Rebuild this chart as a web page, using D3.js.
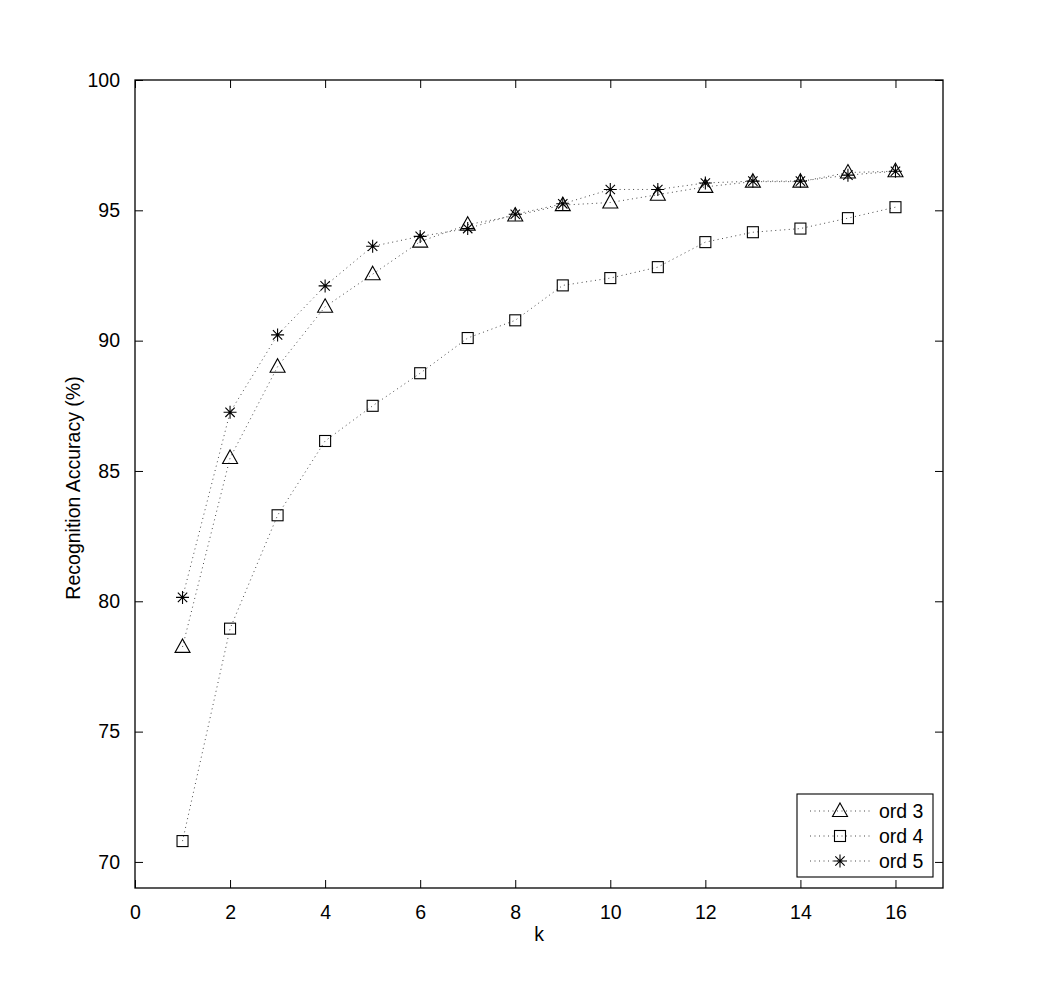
<!DOCTYPE html>
<html>
<head>
<meta charset="utf-8">
<script src="https://cdn.jsdelivr.net/npm/d3@7"></script>
<style>
  body { margin: 0; background: #fff; }
  text { font-family: "Liberation Sans", Arial, sans-serif; }
</style>
</head>
<body>
<svg id="chart" width="1042" height="1005"></svg>
<script>
// data
var kValues = [1, 2, 3, 4, 5, 6, 7, 8, 9, 10, 11, 12, 13, 14, 15, 16];
var ord3 = [78.25, 85.5, 89.0, 91.3, 92.55, 93.8, 94.45, 94.8, 95.2, 95.3, 95.6, 95.9, 96.1, 96.1, 96.45, 96.5];
var ord4 = [70.8, 78.95, 83.3, 86.15, 87.5, 88.75, 90.1, 90.78, 92.12, 92.4, 92.82, 93.78, 94.16, 94.3, 94.7, 95.12];
var ord5 = [80.15, 87.25, 90.22, 92.1, 93.62, 94.0, 94.3, 94.85, 95.25, 95.8, 95.8, 96.05, 96.12, 96.12, 96.35, 96.5];
var seriesNames = ["ord 3", "ord 4", "ord 5"];
var xTicks = [0, 2, 4, 6, 8, 10, 12, 14, 16];
var yTicks = [70, 75, 80, 85, 90, 95, 100];

var plotLeft = 135, plotTop = 80, plotRight = 943, plotBottom = 888;
var fontSize = 19.5;

var svg = d3.select("#chart");

var x = d3.scaleLinear().domain([0, 17]).range([plotLeft, plotRight]);
var y = d3.scaleLinear().domain([69, 100]).range([plotBottom, plotTop]);

// box
svg.append("rect")
    .attr("x", plotLeft).attr("y", plotTop)
    .attr("width", plotRight - plotLeft).attr("height", plotBottom - plotTop)
    .attr("fill", "none").attr("stroke", "#000").attr("stroke-width", 1.3);

// axes (ticks inward, like matlab)
var xAxis = d3.axisBottom(x).tickValues(xTicks).tickSizeInner(-8).tickSizeOuter(0).tickPadding(17);
var yAxis = d3.axisLeft(y).tickValues(yTicks).tickSizeInner(-8).tickSizeOuter(0).tickPadding(15);

var gx = svg.append("g").attr("transform", "translate(0," + plotBottom + ")").call(xAxis);
var gy = svg.append("g").attr("transform", "translate(" + plotLeft + ",0)").call(yAxis);
[gx, gy].forEach(function(g) {
    g.select(".domain").remove();
    g.selectAll("line").attr("stroke", "#000").attr("stroke-width", 1);
    g.selectAll("text").attr("font-size", fontSize).attr("fill", "#000")
        .attr("font-family", "'Liberation Sans', Arial, sans-serif");
});

// mirrored ticks on top and right
svg.append("g").attr("transform", "translate(0," + plotTop + ")")
    .call(d3.axisTop(x).tickValues(xTicks).tickSizeInner(-8).tickSizeOuter(0).tickFormat(""))
    .call(function(g) { g.select(".domain").remove(); g.selectAll("line").attr("stroke", "#000"); });
svg.append("g").attr("transform", "translate(" + plotRight + ",0)")
    .call(d3.axisRight(y).tickValues(yTicks).tickSizeInner(-8).tickSizeOuter(0).tickFormat(""))
    .call(function(g) { g.select(".domain").remove(); g.selectAll("line").attr("stroke", "#000"); });

// axis labels
svg.append("text")
    .attr("x", (plotLeft + plotRight) / 2).attr("y", 941)
    .attr("text-anchor", "middle").attr("font-size", fontSize)
    .text("k");
svg.append("text")
    .attr("transform", "translate(80," + ((plotTop + plotBottom) / 2 + 4) + ") rotate(-90)")
    .attr("text-anchor", "middle").attr("font-size", fontSize)
    .text("Recognition Accuracy (%)");

// markers
function drawMarker(g, type, cx, cy) {
    if (type == 0) {
        g.append("path")
            .attr("d", "M" + cx + "," + (cy - 8) + "L" + (cx + 7.5) + "," + (cy + 5.5) + "L" + (cx - 7.5) + "," + (cy + 5.5) + "Z")
            .attr("fill", "none").attr("stroke", "#000").attr("stroke-width", 1.1);
    } else if (type == 1) {
        g.append("rect")
            .attr("x", cx - 5.5).attr("y", cy - 5.5)
            .attr("width", 11).attr("height", 11)
            .attr("fill", "none").attr("stroke", "#000").attr("stroke-width", 1.1);
    } else {
        var r = 6.5, d = r * 0.72;
        g.append("path")
            .attr("d", "M" + cx + "," + (cy - r) + "V" + (cy + r) +
                       "M" + (cx - r) + "," + cy + "H" + (cx + r) +
                       "M" + (cx - d) + "," + (cy - d) + "L" + (cx + d) + "," + (cy + d) +
                       "M" + (cx - d) + "," + (cy + d) + "L" + (cx + d) + "," + (cy - d))
            .attr("fill", "none").attr("stroke", "#000").attr("stroke-width", 1.1);
    }
}

var allSeries = [ord3, ord4, ord5];
var line = d3.line().x(function(d, i) { return x(kValues[i]); }).y(function(d) { return y(d); });

allSeries.forEach(function(vals, s) {
    var g = svg.append("g");
    g.append("path")
        .attr("d", line(vals))
        .attr("fill", "none").attr("stroke", "#333")
        .attr("stroke-width", 0.9).attr("stroke-dasharray", "1,3.5");
    vals.forEach(function(v, i) {
        drawMarker(g, s, x(kValues[i]), y(v));
    });
});

// legend
var lg = svg.append("g");
lg.append("rect")
    .attr("x", 797).attr("y", 794).attr("width", 136).attr("height", 83)
    .attr("fill", "#fff").attr("stroke", "#000").attr("stroke-width", 1.1);
seriesNames.forEach(function(name, s) {
    var ly = 811 + s * 25;
    lg.append("line")
        .attr("x1", 810).attr("x2", 870).attr("y1", ly).attr("y2", ly)
        .attr("stroke", "#333").attr("stroke-width", 0.9).attr("stroke-dasharray", "1,3.5");
    drawMarker(lg, s, 840, ly);
    lg.append("text")
        .attr("x", 879).attr("y", ly + 7)
        .attr("font-size", fontSize)
        .text(name);
});
</script>
</body>
</html>
